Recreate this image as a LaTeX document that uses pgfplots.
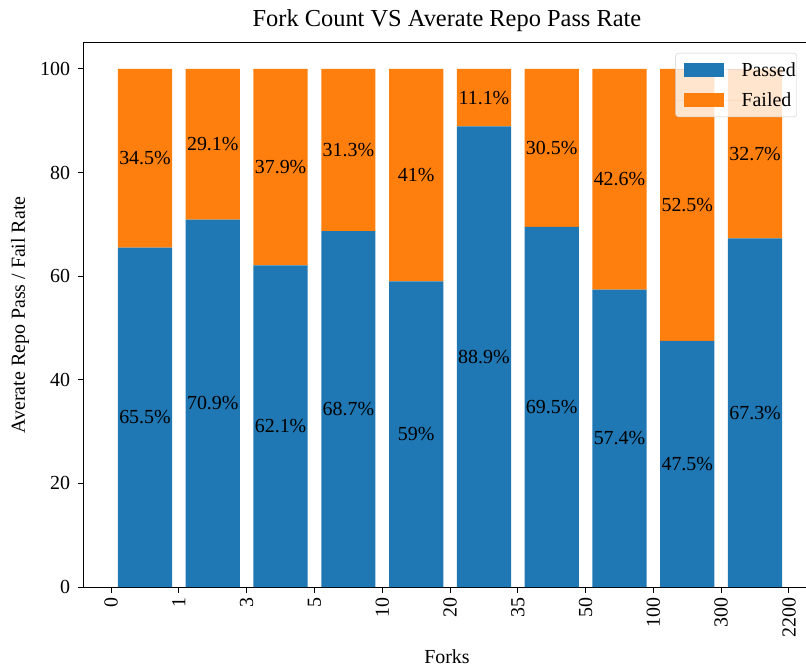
\documentclass[border=0pt]{standalone}
\usepackage{fontspec}
\setmainfont{Liberation Serif}
\usepackage{pgfplots}
\pgfplotsset{compat=1.18}
\definecolor{mplblue}{HTML}{1F77B4}
\definecolor{mplorange}{HTML}{FF7F0E}
\begin{document}
\begin{tikzpicture}[font=\fontsize{20}{24}\selectfont]
\useasboundingbox (-84bp,-79bp) rectangle (722bp,587bp);
\pgfplotsset{common/.style={scale only axis, width=726bp, height=544bp,
  xmin=-0.9, xmax=9.81, ymin=0, ymax=105, at={(0,0)}, anchor=south west}}
\begin{axis}[common, ybar stacked, bar width=0.8,
  axis line style={line width=1bp},
  xtick={-0.5,0.5,...,9.5},
  xticklabels={0,1,3,5,10,20,35,50,100,300,2200},
  ytick={0,20,...,100},
  tick align=outside, major tick length=5.8bp,
  tick style={line width=1bp, black},
  xtick pos=lower, ytick pos=left,
  /pgf/number format/assume math mode=true,
  xticklabel style={rotate=90, anchor=east, inner sep=0pt},
  yticklabel style={anchor=east, inner sep=0pt},
  xticklabel shift=5bp, yticklabel shift=8bp,
  title={Fork Count VS Averate Repo Pass Rate},
  title style={at={(0.5,1)}, anchor=base, yshift=10.5bp, font=\fontsize{24.5}{28}\selectfont},
  xlabel={Forks},
  xlabel style={at={(0.5,0)}, anchor=base, yshift=-76bp},
  ylabel={Averate Repo Pass / Fail Rate},
  ylabel style={at={(0,0.5)}, anchor=base, yshift=59bp},
  legend style={at={(1,1)}, anchor=north east, xshift=-13bp, yshift=-10bp,
    draw=black!20, rounded corners=3bp, fill=white, fill opacity=0.8, text opacity=1,
    inner xsep=1bp, inner ysep=9bp, row sep=15bp,
    nodes={inner sep=0pt, anchor=west}},
  legend cell align=left,
]
\addplot[fill=mplblue, draw=none,
  legend image code/.code={\fill[mplblue, fill opacity=1, sharp corners] (0bp,-7bp) rectangle (40bp,7bp); \path (-7bp,0bp) -- (58bp,0bp);}]
  coordinates {(0,65.5) (1,70.9) (2,62.1) (3,68.7) (4,59) (5,88.9) (6,69.5) (7,57.4) (8,47.5) (9,67.3)};
\addlegendentry{Passed}
\addplot[fill=mplorange, draw=none,
  legend image code/.code={\fill[mplorange, fill opacity=1, sharp corners] (0bp,-7bp) rectangle (40bp,7bp); \path (-7bp,0bp) -- (58bp,0bp);}]
  coordinates {(0,34.5) (1,29.1) (2,37.9) (3,31.3) (4,41) (5,11.1) (6,30.5) (7,42.6) (8,52.5) (9,32.7)};
\addlegendentry{Failed}
\end{axis}
\begin{axis}[common, hide axis]
\addplot[draw=none, mark=none,
  nodes near coords, point meta=explicit symbolic,
  nodes near coords style={anchor=center, inner sep=0pt, text=black}]
  coordinates {(0,32.75)[65.5\%] (1,35.45)[70.9\%] (2,31.05)[62.1\%] (3,34.35)[68.7\%]
    (4,29.5)[59\%] (5,44.45)[88.9\%] (6,34.75)[69.5\%] (7,28.7)[57.4\%]
    (8,23.75)[47.5\%] (9,33.65)[67.3\%]
    (0,82.75)[34.5\%] (1,85.45)[29.1\%] (2,81.05)[37.9\%] (3,84.35)[31.3\%]
    (4,79.5)[41\%] (5,94.45)[11.1\%] (6,84.75)[30.5\%] (7,78.7)[42.6\%]
    (8,73.75)[52.5\%] (9,83.65)[32.7\%]};
\end{axis}
\end{tikzpicture}
\end{document}
